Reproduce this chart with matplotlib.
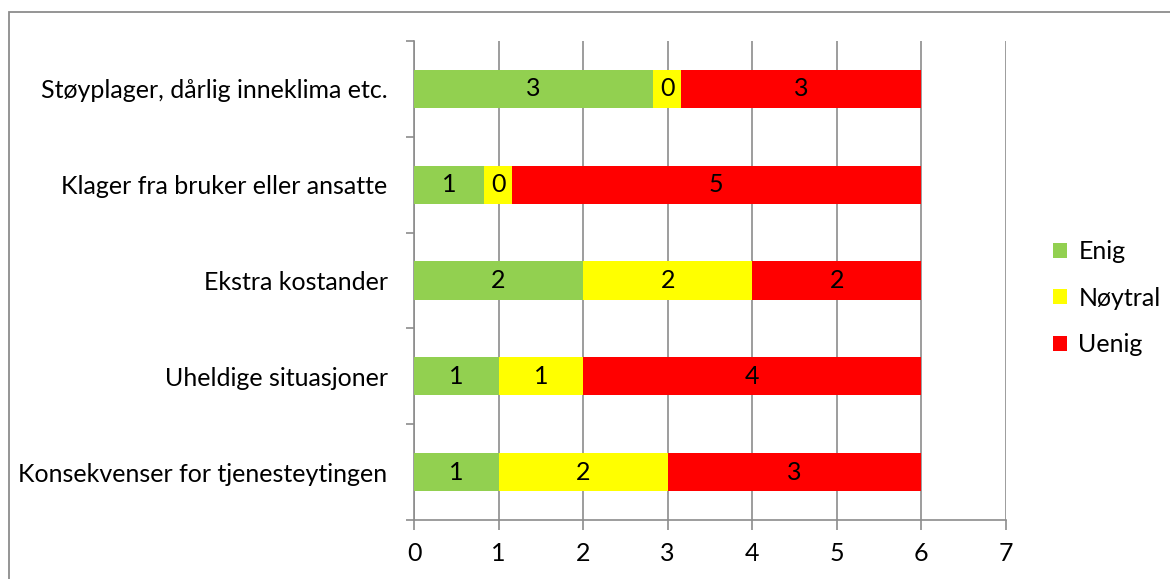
import numpy as np
import matplotlib.pyplot as plt
from matplotlib.patches import Rectangle

# Kategorier (nederst først) og gjennomsnittlige svar
kategorier = ["Konsekvenser for tjenesteytingen", "Uheldige situasjoner",
              "Ekstra kostander", "Klager fra bruker eller ansatte",
              "Støyplager, dårlig inneklima etc."]
enig = [1, 1, 2, 0.83, 2.83]
noytral = [2, 1, 2, 0.33, 0.33]
uenig = [3, 4, 2, 4.83, 2.83]
serier = ["Enig", "Nøytral", "Uenig"]
farger = ["#92D050", "#FFFF00", "#FF0000"]

plt.rcParams['font.family'] = ['Lato', 'DejaVu Sans']
fig = plt.figure(figsize=(11.7, 5.79), dpi=100)
ax = fig.add_axes([414/1170, 1 - 520/579, 592/1170, 479/579])

# ramme rundt hele diagrammet
fig.patches.append(Rectangle((8.5/1170, -0.1), 1.2, 1 - 11.5/579 + 0.1,
                             transform=fig.transFigure, fill=False,
                             edgecolor="#8c8c8c", linewidth=1.3))

y = np.arange(len(kategorier))
venstre = np.zeros(len(kategorier))
for navn, verdier, farge in zip(serier, [enig, noytral, uenig], farger):
    verdier = np.array(verdier)
    ax.barh(y, verdier, left=venstre, height=0.4, color=farge, label=navn, zorder=3)
    for yi, v, l in zip(y, verdier, venstre):
        ax.text(l + v / 2, yi, f"{v:.0f}", ha="center", va="center", fontsize=18,
                zorder=4, bbox=dict(boxstyle="square,pad=0.2", fc=farge, ec="none"))
    venstre += verdier

ax.set_xlim(0, 7)
ax.set_ylim(-0.5, len(kategorier) - 0.5)
ax.set_xticks(range(8))
ax.set_yticks(y)
ax.set_yticklabels(kategorier)
ax.set_yticks(np.arange(-0.5, len(kategorier)), minor=True)
ax.tick_params(axis="y", which="major", length=0, labelsize=18, pad=19)
ax.tick_params(axis="y", which="minor", length=6, color="#8c8c8c", width=1.2)
ax.tick_params(axis="x", length=7, color="#8c8c8c", width=1.2, labelsize=18, pad=9)
ax.grid(axis="x", color="#8c8c8c", linewidth=1.2, zorder=0)
for side in ["top", "right"]:
    ax.spines[side].set_visible(False)
for side in ["left", "bottom"]:
    ax.spines[side].set_color("#8c8c8c")
    ax.spines[side].set_linewidth(1.2)

ax.legend(loc="center left", bbox_to_anchor=(1.08, 0.463), frameon=False,
          fontsize=18, handlelength=0.55, handleheight=0.55, labelspacing=0.95,
          handletextpad=0.45, borderpad=0, borderaxespad=0)

fig.savefig("out.png", dpi=100)
